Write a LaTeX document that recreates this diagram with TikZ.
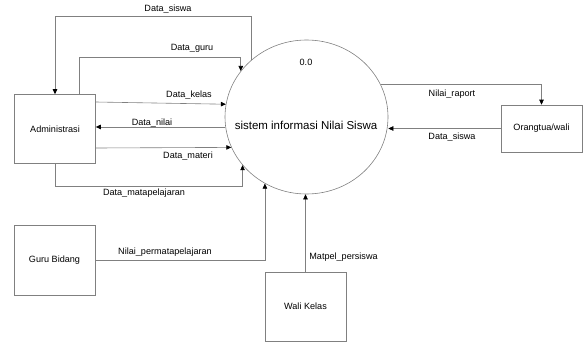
\documentclass[tikz,border=0pt]{standalone}
\usepackage{fontspec}
\setmainfont{Liberation Sans}
\usetikzlibrary{calc, shapes, arrows.meta}

\tikzset{
    entity/.style = {draw = black!50, line width = 0.6pt, minimum width = 81pt, inner sep = 0pt},
    flow/.style = {draw = black!50, line width = 0.6pt, -{Triangle[length = 5pt, width = 4.5pt, black]}},
    lbl/.style = {align = center, inner sep = 1pt, font = \fontsize{9.1}{11}\selectfont}
}

\begin{document}
\begin{tikzpicture}[x = 1pt, y = -1pt]
            \useasboundingbox (0, 0) rectangle (585, 342);

            % rails of the bent flows
            \coordinate (rail_siswa) at (0, 16);
            \coordinate (rail_guru) at (0, 57);
            \coordinate (rail_mapel) at (0, 186);

            \node[ellipse, draw = black!50, line width = 0.6pt, minimum width = 163pt, minimum height = 154pt, inner sep = 0pt] (sis) at (306.5, 117) {};
            \node[lbl] (sis_no) at (306, 62) {0.0};
            \node[align = center, font = \fontsize{11.5}{13}\selectfont] (sis_text) at (306, 125) {sistem informasi Nilai Siswa};

            \node[entity, minimum height = 69pt, lbl] (adm) at (55, 129) {Administrasi};
            \node[entity, minimum height = 47pt, lbl] (ortu) at (541.5, 128.5) {Orangtua/wali};
            \node[entity, minimum height = 70pt, lbl] (guru) at (54.5, 260) {Guru Bidang};
            \node[entity, minimum height = 69pt, lbl] (wali) at (305.5, 306.5) {Wali Kelas};

            \draw[flow](sis.134.5) -- (sis.134.5 |- rail_siswa) -| (adm.north);
            \node[lbl] (l_siswa) at (168, 9) {Data\_siswa};

            \draw[flow]([xshift = 24pt]adm.north) |- (sis.145 |- rail_guru) -- (sis.145);
            \node[lbl] (l_guru) at (192, 48) {Data\_guru};

            \draw[flow]([yshift = 27pt]adm.east) -- (sis.171.5);
            \node[lbl] (l_kelas) at (189, 95) {Data\_kelas};

            \draw[flow](sis.187.8) -- (sis.187.8 -| adm.east);
            \node[lbl] (l_nilai) at (152, 123) {Data\_nilai};

            \draw[flow]([yshift = -19pt]adm.east) -- (sis.202.6);
            \node[lbl] (l_materi) at (188, 156) {Data\_materi};

            \draw[flow](adm.south) |- (sis.217.3 |- rail_mapel) -- (sis.217.3);
            \node[lbl] (l_mapel) at (144, 193) {Data\_matapelajaran};

            \draw[flow](guru.east) -| (sis.238);
            \node[lbl] (l_perm) at (165, 252) {Nilai\_permatapelajaran};

            \draw[flow](wali.north) -- (wali.north |- sis.south);
            \node[lbl] (l_matpel) at (343.5, 257) {Matpel\_persiswa};

            \draw[flow](sis.24.9) -| (ortu.north);
            \node[lbl] (l_raport) at (452, 94) {Nilai\_raport};

            \draw[flow](ortu.west) -- (ortu.west -| sis.east);
            \node[lbl] (l_siswa2) at (452, 137) {Data\_siswa};
        \end{tikzpicture}
\end{document}
